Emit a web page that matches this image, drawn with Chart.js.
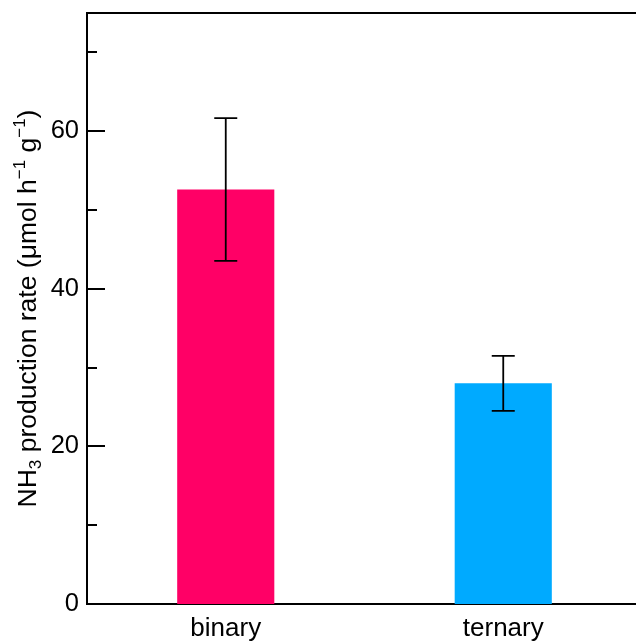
<!DOCTYPE html>
<html>
<head>
<meta charset="utf-8">
<script src="https://cdn.jsdelivr.net/npm/chart.js@4.4.1/dist/chart.umd.min.js"></script>
<style>
  html, body { margin: 0; padding: 0; background: #fff; overflow: hidden; }
  #wrap { width: 650px; height: 641px; }
</style>
</head>
<body>
<div id="wrap"><canvas id="rateChart"></canvas></div>
<script>
// ── Data ──
const categories = ['binary', 'ternary'];
const rates = [52.6, 28.0];
const rateErrors = [9.05, 3.5];
const barColors = ['#ff0066', '#00aaff'];
const yMajorTicks = [0, 20, 40, 60];
const yMinorTicks = [10, 30, 50, 70];
const yMax = 75;

const FONT = '"Liberation Sans", Arial, Helvetica, sans-serif';

// ── Error bars drawn on top of the bars ──
const errorBars = {
  id: 'errorBars',
  afterDatasetsDraw(chart) {
    const { ctx, scales: { y } } = chart;
    const meta = chart.getDatasetMeta(0);
    ctx.save();
    ctx.strokeStyle = '#000';
    ctx.lineWidth = 1.8;
    meta.data.forEach((bar, i) => {
      const x = bar.x;
      const top = y.getPixelForValue(rates[i] + rateErrors[i]);
      const bot = y.getPixelForValue(rates[i] - rateErrors[i]);
      const cap = 11.5;
      ctx.beginPath();
      ctx.moveTo(x, top); ctx.lineTo(x, bot);
      ctx.moveTo(x - cap, top); ctx.lineTo(x + cap, top);
      ctx.moveTo(x - cap, bot); ctx.lineTo(x + cap, bot);
      ctx.stroke();
    });
    ctx.restore();
  }
};

// ── Frame top line, inward ticks and rotated axis title ──
const frame = {
  id: 'frame',
  afterDraw(chart) {
    const { ctx, chartArea: a, scales: { y } } = chart;
    ctx.save();
    ctx.strokeStyle = '#000';
    ctx.lineWidth = 2;
    ctx.beginPath();
    ctx.moveTo(a.left - 1, a.top);
    ctx.lineTo(a.right + 10, a.top);
    yMajorTicks.forEach(v => {
      const p = Math.round(y.getPixelForValue(v));
      ctx.moveTo(a.left, p); ctx.lineTo(a.left + 18, p);
    });
    yMinorTicks.forEach(v => {
      const p = Math.round(y.getPixelForValue(v));
      ctx.moveTo(a.left, p); ctx.lineTo(a.left + 10, p);
    });
    ctx.stroke();

    // NH3 production rate (μmol h−1 g−1)
    const parts = [
      ['NH', 0], ['3', 1], [' production rate (\u03bcmol h', 0], ['\u22121', 2],
      [' g', 0], ['\u22121', 2], [')', 0]
    ];
    const big = 26.5, small = 17;
    ctx.fillStyle = '#000';
    ctx.textBaseline = 'alphabetic';
    let total = 0;
    parts.forEach(([t, k]) => {
      ctx.font = (k ? small : big) + 'px ' + FONT;
      total += ctx.measureText(t).width;
    });
    const cy = (a.top + a.bottom) / 2;
    ctx.translate(36, cy);
    ctx.rotate(-Math.PI / 2);
    let x = -total / 2;
    parts.forEach(([t, k]) => {
      ctx.font = (k ? small : big) + 'px ' + FONT;
      const dy = k === 1 ? 5 : k === 2 ? -11 : 0;
      ctx.fillText(t, x, dy);
      x += ctx.measureText(t).width;
    });
    ctx.restore();
  }
};

new Chart(document.getElementById('rateChart'), {
  type: 'bar',
  data: {
    labels: categories,
    datasets: [{
      data: rates,
      backgroundColor: barColors,
      borderWidth: 0,
      categoryPercentage: 1,
      barPercentage: 0.35
    }]
  },
  options: {
    responsive: true,
    maintainAspectRatio: false,
    animation: false,
    devicePixelRatio: 1,
    layout: { padding: { top: 0, right: 8, left: 0, bottom: 0 } },
    plugins: { legend: { display: false }, tooltip: { enabled: false } },
    scales: {
      x: {
        grid: { display: false },
        border: { display: true, color: '#000', width: 2 },
        ticks: { color: '#000', font: { family: FONT, size: 26 }, padding: 1 },
        afterFit: s => { s.height = 37; }
      },
      y: {
        min: 0,
        max: yMax,
        grid: { display: false },
        border: { display: true, color: '#000', width: 2 },
        afterBuildTicks: s => { s.ticks = yMajorTicks.map(v => ({ value: v })); },
        ticks: { color: '#000', font: { family: FONT, size: 25.5, lineHeight: 1.02 }, padding: 0 },
        afterFit: s => { s.width = 87; }
      }
    }
  },
  plugins: [errorBars, frame]
});
</script>
</body>
</html>
